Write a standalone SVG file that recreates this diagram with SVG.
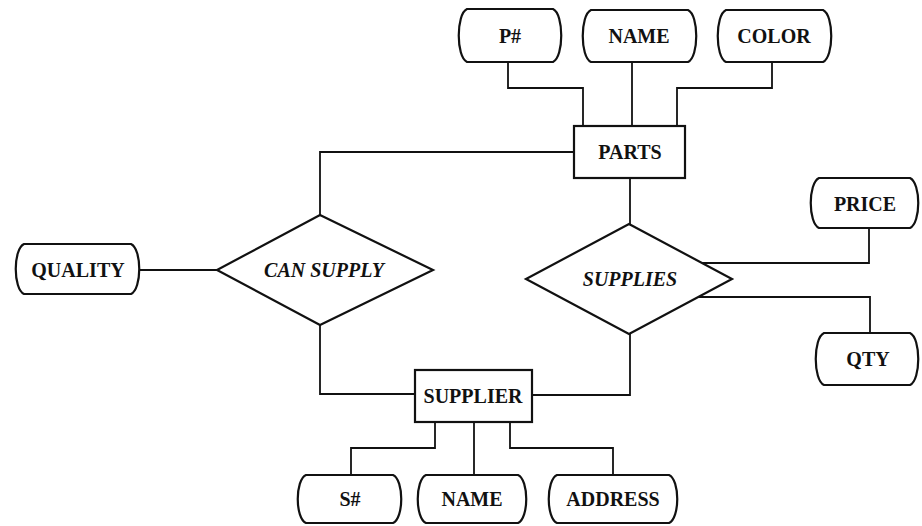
<svg xmlns="http://www.w3.org/2000/svg" width="922" height="526" viewBox="0 0 922 526">
<style>
.shape{fill:#fff;stroke:#111;stroke-width:2.2}
.conn{fill:none;stroke:#111;stroke-width:1.8}
.t{font-family:"Liberation Serif","Times New Roman",serif;font-weight:bold;font-size:20px;fill:#111;text-anchor:middle;dominant-baseline:central}
.i{font-style:italic}
</style>
<rect width="922" height="526" fill="#fff"/>
<g id="connectors">
<path class="conn" d="M508,62 V88 H583 V126"/>
<path class="conn" d="M632,62 V126"/>
<path class="conn" d="M772,62 V88 H677 V126"/>
<path class="conn" d="M320,215 V152 H574"/>
<path class="conn" d="M630,178 V224"/>
<path class="conn" d="M140,270 H218"/>
<path class="conn" d="M869,228 V263 H702"/>
<path class="conn" d="M870,333 V297 H698"/>
<path class="conn" d="M320,325 V394 H415"/>
<path class="conn" d="M630,334 V395 H532"/>
<path class="conn" d="M435,422 V448 H351 V475"/>
<path class="conn" d="M474,422 V475"/>
<path class="conn" d="M510,422 V448 H613 V475"/>
</g>
<g id="p_num"><path class="shape" d="M467,9 H553 C564,14 564,57 553,62 H467 C456,57 456,14 467,9 Z"/><text class="t" x="510" y="36">P#</text></g>
<g id="p_name"><path class="shape" d="M591,10 H688 C699,15 699,57 688,62 H591 C580,57 580,15 591,10 Z"/><text class="t" x="639" y="36">NAME</text></g>
<g id="p_color"><path class="shape" d="M726,10 H823 C834,15 834,57 823,62 H726 C715,57 715,15 726,10 Z"/><text class="t" x="774" y="36">COLOR</text></g>
<g id="parts"><rect class="shape" x="574" y="126" width="111" height="52"/><text class="t" x="630" y="152">PARTS</text></g>
<g id="quality"><path class="shape" d="M24,244 H131 C142,249 142,289 131,294 H24 C13,289 13,249 24,244 Z"/><text class="t" x="78" y="270">QUALITY</text></g>
<g id="can_supply"><polygon class="shape" points="320,215 433,270 320,325 217,270"/><text class="t i" x="324" y="270">CAN SUPPLY</text></g>
<g id="supplies"><polygon class="shape" points="629,224 732,279 629,334 526,279"/><text class="t i" x="630" y="279">SUPPLIES</text></g>
<g id="price"><path class="shape" d="M819,178 H910 C921,183 921,223 910,228 H819 C808,223 808,183 819,178 Z"/><text class="t" x="865" y="204">PRICE</text></g>
<g id="qty"><path class="shape" d="M824,333 H910 C921,338 921,380 910,385 H824 C813,380 813,338 824,333 Z"/><text class="t" x="868" y="359">QTY</text></g>
<g id="supplier"><rect class="shape" x="415" y="370" width="117" height="52"/><text class="t" x="473" y="396">SUPPLIER</text></g>
<g id="s_num"><path class="shape" d="M306,475 H393 C404,480 404,518 393,523 H306 C295,518 295,480 306,475 Z"/><text class="t" x="350" y="499">S#</text></g>
<g id="s_name"><path class="shape" d="M426,475 H518 C529,480 529,518 518,523 H426 C415,518 415,480 426,475 Z"/><text class="t" x="472" y="499">NAME</text></g>
<g id="s_address"><path class="shape" d="M557,475 H669 C680,480 680,518 669,523 H557 C546,518 546,480 557,475 Z"/><text class="t" x="613" y="499">ADDRESS</text></g>
</svg>
